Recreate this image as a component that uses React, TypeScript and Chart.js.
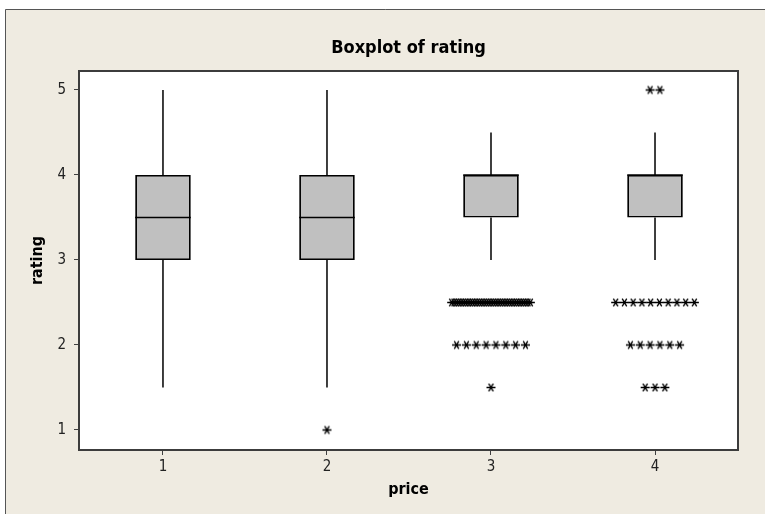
import React, { useEffect, useRef } from 'react';
import { Chart, registerables } from 'chart.js';

Chart.register(...registerables);

// ---- data ----
const TITLE = 'Boxplot of rating';
const X_LABEL = 'price';
const Y_LABEL = 'rating';

const prices = [1, 2, 3, 4];
const whiskerLow = [1.5, 1.5, 3, 3];
const q1 = [3, 3, 3.5, 3.5];
const median = [3.5, 3.5, 4, 4];
const q3 = [4, 4, 4, 4];
const whiskerHigh = [5, 5, 4.5, 4.5];

const outlierPrice = [2, 3, 3, 3, 4, 4, 4, 4];
const outlierRating = [1, 2.5, 2, 1.5, 5, 2.5, 2, 1.5];
const outlierCount = [1, 35, 8, 1, 2, 10, 6, 3];

const xTicks = [1, 2, 3, 4];
const yTicks = [1, 2, 3, 4, 5];

// ---- style constants ----
const BOX_W = 0.339;
const OUT_STEP = 0.06;
const OUT_MAX = 0.48;
const FONT = '"DejaVu Sans Condensed", "DejaVu Sans", sans-serif';

function makeAsterisk(): HTMLCanvasElement {
  const c = document.createElement('canvas');
  c.width = 11;
  c.height = 11;
  const g = c.getContext('2d')!;
  g.strokeStyle = '#000';
  g.lineWidth = 1.3;
  const cx = 5.5, cy = 5.5, r = 4.5;
  g.beginPath();
  [0, 60, 120].forEach((deg) => {
    const a = (deg * Math.PI) / 180;
    g.moveTo(cx - r * Math.cos(a), cy - r * Math.sin(a));
    g.lineTo(cx + r * Math.cos(a), cy + r * Math.sin(a));
  });
  g.stroke();
  return c;
}

const framePlugin = {
  id: 'minitabFrame',
  beforeDraw(chart: any) {
    const { ctx, width, height, chartArea } = chart;
    ctx.save();
    ctx.fillStyle = '#ffffff';
    ctx.fillRect(0, 0, width, height);
    ctx.fillStyle = '#EFEBE1';
    ctx.fillRect(5, 9, width - 5, height - 9);
    ctx.strokeStyle = '#555555';
    ctx.lineWidth = 1;
    ctx.beginPath();
    ctx.moveTo(5.5, height);
    ctx.lineTo(5.5, 9.5);
    ctx.lineTo(width, 9.5);
    ctx.stroke();
    ctx.fillStyle = '#ffffff';
    ctx.fillRect(chartArea.left, chartArea.top, chartArea.right - chartArea.left, chartArea.bottom - chartArea.top);
    ctx.fillStyle = '#000000';
    ctx.font = `bold 18px ${FONT}`;
    ctx.textAlign = 'center';
    ctx.textBaseline = 'middle';
    ctx.fillText(TITLE, (chartArea.left + chartArea.right) / 2, chartArea.top - 23);
    ctx.restore();
  },
  afterDraw(chart: any) {
    const { ctx, chartArea } = chart;
    ctx.save();
    ctx.strokeStyle = '#3c3c3c';
    ctx.lineWidth = 2;
    ctx.strokeRect(chartArea.left, chartArea.top, chartArea.right - chartArea.left, chartArea.bottom - chartArea.top);
    ctx.restore();
  },
};

export default function App() {
  const ref = useRef<HTMLCanvasElement | null>(null);

  useEffect(() => {
    if (!ref.current) return;
    const star = makeAsterisk();

    const boxData = prices.map((p, i) => ({ x: p, y: [q1[i], q3[i]] }));
    const medianData: any[] = [];
    prices.forEach((p, i) => {
      medianData.push({ x: p - BOX_W / 2, y: median[i] });
      medianData.push({ x: p + BOX_W / 2, y: median[i] });
      medianData.push({ x: p, y: null });
    });
    const whiskerData: any[] = [];
    prices.forEach((p, i) => {
      whiskerData.push({ x: p, y: whiskerLow[i] });
      whiskerData.push({ x: p, y: q1[i] });
      whiskerData.push({ x: p, y: null });
      whiskerData.push({ x: p, y: q3[i] });
      whiskerData.push({ x: p, y: whiskerHigh[i] });
      whiskerData.push({ x: p, y: null });
    });
    const outlierData: any[] = [];
    outlierPrice.forEach((p, i) => {
      const n = outlierCount[i];
      const step = n > 1 ? Math.min(OUT_STEP, OUT_MAX / (n - 1)) : 0;
      for (let k = 0; k < n; k++) {
        outlierData.push({ x: p + (k - (n - 1) / 2) * step, y: outlierRating[i] });
      }
    });

    const chart = new Chart(ref.current, {
      type: 'bar',
      data: {
        datasets: [
          {
            type: 'line',
            data: medianData,
            borderColor: '#000',
            borderWidth: 1.5,
            pointRadius: 0,
            spanGaps: false,
            fill: false,
            order: 0,
          } as any,
          {
            type: 'bar',
            data: boxData,
            backgroundColor: '#C0C0C0',
            borderColor: '#000',
            borderWidth: 1.8,
            borderSkipped: false,
            barPercentage: BOX_W,
            categoryPercentage: 1,
            order: 2,
          } as any,
          {
            type: 'line',
            data: whiskerData,
            borderColor: '#000',
            borderWidth: 1.5,
            pointRadius: 0,
            spanGaps: false,
            fill: false,
            order: 3,
          } as any,
          {
            type: 'scatter',
            data: outlierData,
            pointStyle: star,
            pointRadius: 5,
            showLine: false,
            order: 1,
          } as any,
        ],
      },
      options: {
        animation: false,
        responsive: false,
        events: [],
        layout: { padding: { top: 71, right: 27, left: 0, bottom: 0 } },
        plugins: { legend: { display: false }, tooltip: { enabled: false }, title: { display: false } },
        scales: {
          x: {
            type: 'linear',
            offset: false,
            min: 0.488,
            max: 4.506,
            afterBuildTicks: (s: any) => {
              s.ticks = xTicks.map((v) => ({ value: v }));
            },
            afterFit: (s: any) => {
              s.height = 64;
            },
            grid: { offset: false, drawOnChartArea: false, drawTicks: true, tickLength: 5, color: '#404040' },
            border: { display: false },
            ticks: { font: { family: FONT, size: 15 }, color: '#222', padding: 3, maxRotation: 0 },
            title: {
              display: true,
              text: X_LABEL,
              font: { family: FONT, size: 16, weight: 'bold' },
              color: '#000',
              padding: { top: 0, bottom: 15 },
            },
          },
          y: {
            type: 'linear',
            min: 0.7647,
            max: 5.2235,
            afterBuildTicks: (s: any) => {
              s.ticks = yTicks.map((v) => ({ value: v }));
            },
            afterFit: (s: any) => {
              s.width = 79;
            },
            grid: { drawOnChartArea: false, drawTicks: true, tickLength: 5, color: '#404040' },
            border: { display: false },
            ticks: { font: { family: FONT, size: 15 }, color: '#222', padding: 8 },
            title: {
              display: true,
              text: Y_LABEL,
              font: { family: FONT, size: 16, weight: 'bold' },
              color: '#000',
              padding: { top: 28, bottom: 0 },
            },
          },
        },
      },
      plugins: [framePlugin],
    } as any);

    return () => chart.destroy();
  }, []);

  return (
    <div style={{ position: 'fixed', left: 0, top: 0, width: 765, height: 514 }}>
      <canvas ref={ref} width={765} height={514} style={{ display: 'block' }} />
    </div>
  );
}
